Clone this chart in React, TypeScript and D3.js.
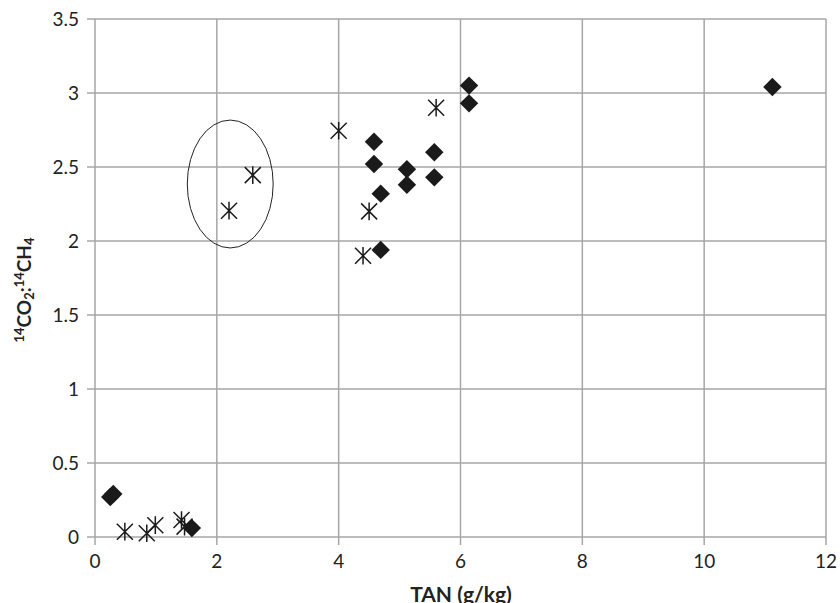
import React, { useEffect, useRef } from 'react';
import * as d3 from 'd3';

// TAN (g/kg) vs 14CO2:14CH4 ratio
const diamondX = [0.25, 0.3, 1.59, 4.58, 4.58, 4.69, 4.69, 5.12, 5.12, 5.57, 5.57, 6.14, 6.14, 11.12];
const diamondY = [0.27, 0.29, 0.06, 2.67, 2.52, 2.32, 1.94, 2.485, 2.38, 2.6, 2.43, 3.05, 2.93, 3.04];

const starX = [0.49, 0.85, 0.99, 1.42, 1.47, 2.2, 2.59, 4.0, 4.5, 4.4, 5.6];
const starY = [0.036, 0.025, 0.08, 0.115, 0.07, 2.205, 2.445, 2.745, 2.2, 1.9, 2.9];

const xTicks = [0, 2, 4, 6, 8, 10, 12];
const yTicks = [0, 0.5, 1, 1.5, 2, 2.5, 3, 3.5];

// circled group (annotation ellipse)
const ellipseCenter = [2.22, 2.385];
const ellipseRadii = [0.705, 0.432];

const App = () => {
  const svgRef = useRef<SVGSVGElement>(null);

  useEffect(() => {
    const svg = d3.select(svgRef.current);
    svg.selectAll('*').remove();

    const width = 840;
    const height = 603;
    const margin = { top: 19, right: 14, bottom: 66, left: 95 };

    const x = d3.scaleLinear().domain([0, 12]).range([margin.left, width - margin.right]);
    const y = d3.scaleLinear().domain([0, 3.5]).range([height - margin.bottom, margin.top]);

    const grid = '#a6a6a6';
    const font = 'Lato, "Open Sans", sans-serif';

    // gridlines
    svg.append('g')
      .selectAll('line')
      .data(xTicks)
      .join('line')
      .attr('x1', (d) => x(d)).attr('x2', (d) => x(d))
      .attr('y1', y(3.5)).attr('y2', y(0) + 8)
      .attr('stroke', grid).attr('stroke-width', 1.5);

    svg.append('g')
      .selectAll('line')
      .data(yTicks)
      .join('line')
      .attr('x1', x(0) - 8).attr('x2', x(12))
      .attr('y1', (d) => y(d)).attr('y2', (d) => y(d))
      .attr('stroke', grid).attr('stroke-width', 1.5);

    // tick labels
    svg.append('g')
      .selectAll('text')
      .data(xTicks)
      .join('text')
      .attr('x', (d) => x(d))
      .attr('y', y(0) + 31)
      .attr('text-anchor', 'middle')
      .attr('font-family', font).attr('font-size', 19).attr('fill', '#222')
      .text((d) => d);

    svg.append('g')
      .selectAll('text')
      .data(yTicks)
      .join('text')
      .attr('x', x(0) - 16)
      .attr('y', (d) => y(d))
      .attr('dy', '0.35em')
      .attr('text-anchor', 'end')
      .attr('font-family', font).attr('font-size', 19).attr('fill', '#222')
      .text((d) => d);

    // axis titles
    svg.append('text')
      .attr('x', 461).attr('y', 602)
      .attr('text-anchor', 'middle')
      .attr('font-family', font).attr('font-size', 21).attr('font-weight', 'bold').attr('fill', '#222')
      .text('TAN (g/kg)');

    const yl = svg.append('text')
      .attr('transform', 'translate(31,290) rotate(-90)')
      .attr('text-anchor', 'middle')
      .attr('font-family', font).attr('font-size', 19).attr('font-weight', 'bold').attr('fill', '#222');
    const parts: [string, string][] = [['14', 'sup'], ['CO', ''], ['2', 'sub'], [':', ''], ['14', 'sup'], ['CH', ''], ['4', 'sub']];
    parts.forEach(([t, k]) => {
      const ts = yl.append('tspan').text(t);
      if (k === 'sup') ts.attr('font-size', 13).attr('baseline-shift', '55%');
      if (k === 'sub') ts.attr('font-size', 13).attr('baseline-shift', '-25%');
    });

    // ellipse annotation
    svg.append('ellipse')
      .attr('cx', x(ellipseCenter[0])).attr('cy', y(ellipseCenter[1]))
      .attr('rx', x(ellipseRadii[0]) - x(0)).attr('ry', y(0) - y(ellipseRadii[1]))
      .attr('fill', 'none').attr('stroke', '#222').attr('stroke-width', 1);

    // diamonds
    const diamond = d3.symbol().type(d3.symbolSquare).size(170)();
    svg.append('g')
      .selectAll('path')
      .data(d3.zip(diamondX, diamondY))
      .join('path')
      .attr('d', diamond)
      .attr('transform', ([a, b]) => `translate(${x(a)},${y(b)}) rotate(45)`)
      .attr('fill', '#1a1a1a');

    // stars
    const r = 8;
    const starPath = `M${-r},${-r}L${r},${r}M${-r},${r}L${r},${-r}M0,${-r * 1.1}L0,${r * 1.1}`;
    svg.append('g')
      .selectAll('path')
      .data(d3.zip(starX, starY))
      .join('path')
      .attr('d', starPath)
      .attr('transform', ([a, b]) => `translate(${x(a)},${y(b)})`)
      .attr('fill', 'none').attr('stroke', '#1a1a1a').attr('stroke-width', 1.5);
  }, []);

  return <svg ref={svgRef} width={840} height={603} style={{ position: 'absolute', left: 0, top: 0 }} />;
};

export default App;
